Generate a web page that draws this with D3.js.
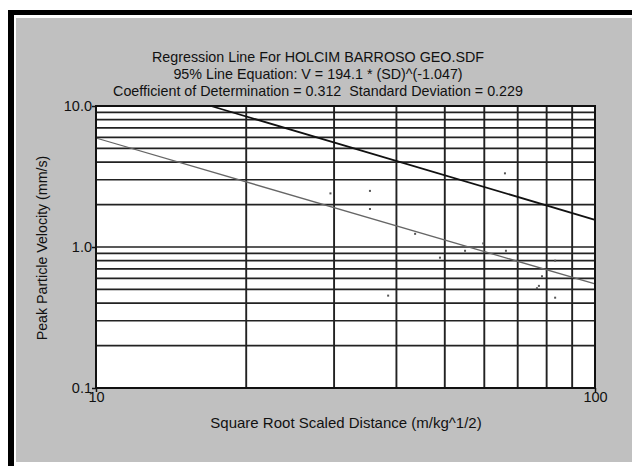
<!DOCTYPE html>
<html>
<head>
<meta charset="utf-8">
<script src="https://d3js.org/d3.v7.min.js"></script>
<style>
	body { margin:0; background:#ffffff; }
	text { font-family: "Liberation Sans", Arial, sans-serif; fill:#111; white-space:pre; }
</style>
</head>
<body>
<div id="chart"></div>
<script>
//Chart data
var titleLines = ["Regression Line For HOLCIM BARROSO GEO.SDF",
	"95% Line Equation: V = 194.1 * (SD)^(-1.047)",
	"Coefficient of Determination = 0.312  Standard Deviation = 0.229"];
var scaledDistance = [29.5, 35.4, 35.4, 43.6, 38.5, 66.0, 59.7, 54.9, 66.3, 48.9, 83.2, 78.3, 76.5, 77.2, 83.2];
var velocity = [2.40, 2.50, 1.86, 1.24, 0.452, 3.33, 1.06, 0.94, 0.94, 0.84, 0.80, 0.62, 0.51, 0.53, 0.437];
var regressionSD = [10, 100];
var regressionV = [5.93, 0.547];
var line95SD = [17.0, 100];
var line95V = [10, 1.56];
var xTicks = [10, 100];
var yTicks = [0.1, 1, 10];
var xGrid = [20, 30, 40, 50, 60, 70, 80, 90];
var yGrid = [0.2, 0.3, 0.4, 0.5, 0.6, 0.7, 0.8, 0.9, 2, 3, 4, 5, 6, 7, 8, 9];

var width = 632;
var height = 466;
var plot = {left:96, top:106, right:595, bottom:388};

var svg = d3.select("#chart")
	.append("svg")
	.attr("width", width)
	.attr("height", height);

//Frame: black border, thin white gap, gray panel
svg.append("rect")
	.attr("x", 8).attr("y", 10)
	.attr("width", width).attr("height", height)
	.attr("fill", "#000");
svg.append("rect")
	.attr("x", 14).attr("y", 15)
	.attr("width", width).attr("height", height)
	.attr("fill", "#fff");
svg.append("rect")
	.attr("x", 16).attr("y", 18)
	.attr("width", width - 16).attr("height", 462 - 18)
	.attr("fill", "#c0c0c0");

//Scales
var xScale = d3.scaleLog()
	.domain([10, 100])
	.range([plot.left, plot.right]);

var yScale = d3.scaleLog()
	.domain([0.1, 10])
	.range([plot.bottom, plot.top]);

//Plot area
svg.append("rect")
	.attr("x", plot.left).attr("y", plot.top)
	.attr("width", plot.right - plot.left)
	.attr("height", plot.bottom - plot.top)
	.attr("fill", "#fff");

//Grid lines
svg.selectAll(".hgrid")
	.data(yGrid.concat([1]))
	.enter()
	.append("line")
	.attr("class", "hgrid")
	.attr("x1", plot.left).attr("x2", plot.right)
	.attr("y1", function(d) {return yScale(d);})
	.attr("y2", function(d) {return yScale(d);})
	.attr("stroke", "#222")
	.attr("stroke-width", 1.7);

svg.selectAll(".vgrid")
	.data(xGrid)
	.enter()
	.append("line")
	.attr("class", "vgrid")
	.attr("y1", plot.top).attr("y2", plot.bottom)
	.attr("x1", function(d) {return xScale(d);})
	.attr("x2", function(d) {return xScale(d);})
	.attr("stroke", "#222")
	.attr("stroke-width", 1.9);

//Regression line and 95% line
var line = d3.line()
	.x(function(d) {return xScale(d[0]);})
	.y(function(d) {return yScale(d[1]);});

svg.append("path")
	.attr("d", line(d3.zip(regressionSD, regressionV)))
	.attr("fill", "none")
	.attr("stroke", "#666")
	.attr("stroke-width", 1.3);

svg.append("path")
	.attr("d", line(d3.zip(line95SD, line95V)))
	.attr("fill", "none")
	.attr("stroke", "#111")
	.attr("stroke-width", 1.8);

//Data points
svg.selectAll(".pt")
	.data(d3.zip(scaledDistance, velocity))
	.enter()
	.append("rect")
	.attr("class", "pt")
	.attr("x", function(d) {return xScale(d[0]) - 1;})
	.attr("y", function(d) {return yScale(d[1]) - 1;})
	.attr("width", 2).attr("height", 2)
	.attr("fill", "#555");

//Plot frame
svg.append("rect")
	.attr("x", plot.left).attr("y", plot.top)
	.attr("width", plot.right - plot.left)
	.attr("height", plot.bottom - plot.top)
	.attr("fill", "none")
	.attr("stroke", "#111")
	.attr("stroke-width", 2);

//Axes
var xAxis = d3.axisBottom(xScale)
	.tickValues(xTicks)
	.tickFormat(d3.format("d"))
	.tickSize(4)
	.tickPadding(0);

var yAxis = d3.axisLeft(yScale)
	.tickValues(yTicks)
	.tickFormat(d3.format(".1f"))
	.tickSize(4)
	.tickPadding(0);

var gx = svg.append("g")
	.attr("transform", "translate(0," + plot.bottom + ")")
	.call(xAxis);
var gy = svg.append("g")
	.attr("transform", "translate(" + plot.left + ",0)")
	.call(yAxis);

[gx, gy].forEach(function(g) {
	g.select(".domain").remove();
	g.selectAll("line").attr("stroke", "#111").attr("stroke-width", 1.5);
	g.selectAll("text")
		.attr("font-size", 14.5)
		.attr("font-family", "Liberation Sans, Arial, sans-serif")
		.attr("fill", "#111");
});

//Title
svg.selectAll(".title")
	.data(titleLines)
	.enter()
	.append("text")
	.attr("class", "title")
	.attr("x", 318)
	.attr("y", function(d, i) {return 62 + i * 17;})
	.attr("text-anchor", "middle")
	.attr("font-size", 14.3)
	.text(function(d) {return d;});

//Axis labels
svg.append("text")
	.attr("x", 346)
	.attr("y", 428)
	.attr("text-anchor", "middle")
	.attr("font-size", 15)
	.text("Square Root Scaled Distance (m/kg^1/2)");

svg.append("text")
	.attr("transform", "rotate(-90)")
	.attr("x", -248)
	.attr("y", 47)
	.attr("text-anchor", "middle")
	.attr("font-size", 14.2)
	.text("Peak Particle Velocity (mm/s)");
</script>
</body>
</html>
